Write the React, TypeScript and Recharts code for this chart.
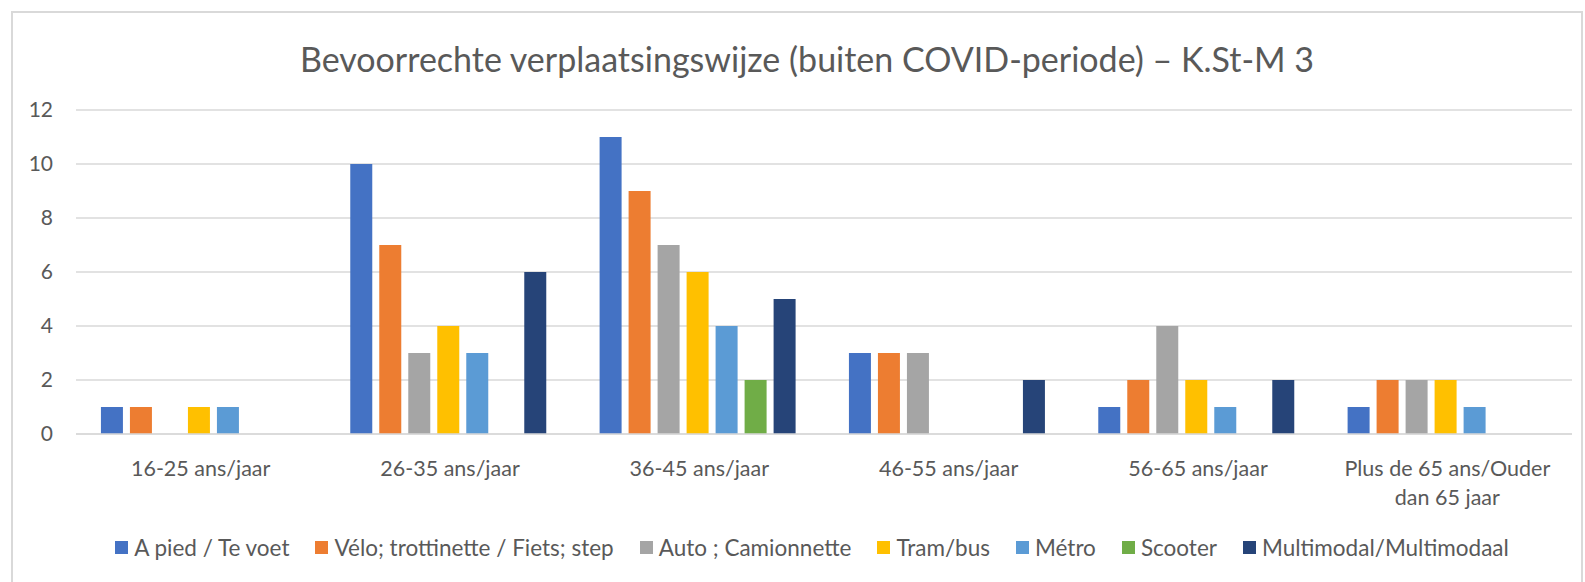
import { Bar, BarChart, CartesianGrid, Legend, Text, XAxis, YAxis } from "recharts"

const categories = [
  "16-25 ans/jaar",
  "26-35 ans/jaar",
  "36-45 ans/jaar",
  "46-55 ans/jaar",
  "56-65 ans/jaar",
  "Plus de 65 ans/Ouder dan 65 jaar",
]

const seriesNames = [
  "A pied / Te voet",
  "Vélo; trottinette / Fiets; step",
  "Auto ; Camionnette",
  "Tram/bus",
  "Métro",
  "Scooter",
  "Multimodal/Multimodaal",
]

const seriesColors = ["#4472C4", "#ED7D31", "#A5A5A5", "#FFC000", "#5B9BD5", "#70AD47", "#264478"]

// null = no bar in the source
const aPied = [1, 10, 11, 3, 1, 1]
const velo = [1, 7, 9, 3, 2, 2]
const auto = [null, 3, 7, 3, 4, 2]
const tramBus = [1, 4, 6, null, 2, 2]
const metro = [1, 3, 4, null, 1, 1]
const scooter = [null, null, 2, null, null, null]
const multimodal = [null, 6, 5, 2, 2, null]

const yTicks = [0, 2, 4, 6, 8, 10, 12]

const seriesValues = [aPied, velo, auto, tramBus, metro, scooter, multimodal]

const data = categories.map((name, i) => {
  const row: Record<string, string | number | null> = { name }
  seriesNames.forEach((s, j) => {
    row[s] = seriesValues[j][i]
  })
  return row
})

const font = "Lato, 'Open Sans', sans-serif"
const textColor = "#595959"

function CategoryTick(props: any) {
  const { x, y, payload } = props
  return (
    <Text
      x={x}
      y={y + 19}
      width={175}
      textAnchor="middle"
      verticalAnchor="start"
      fill={textColor}
      fontSize={21.5}
      fontFamily={font}
      style={{ fontSize: 21.5, fontFamily: font }}
      lineHeight={29}
    >
      {payload.value}
    </Text>
  )
}

function LegendContent() {
  return (
    <div style={{ display: "flex", justifyContent: "center", gap: 26, fontSize: 22.5, color: textColor, fontFamily: font }}>
      {seriesNames.map((s, j) => (
        <div key={s} style={{ display: "flex", alignItems: "center" }}>
          <span style={{ width: 13, height: 13, background: seriesColors[j], marginRight: 6, display: "inline-block" }} />
          <span>{s}</span>
        </div>
      ))}
    </div>
  )
}

export default function App() {
  return (
    <div
      style={{
        position: "absolute",
        left: 11,
        top: 11,
        width: 1568,
        height: 569,
        borderTop: "2px solid #d9d9d9",
        borderLeft: "2px solid #d9d9d9",
        borderRight: "2px solid #d9d9d9",
        background: "#fff",
        fontFamily: font,
      }}
    >
      <div
        style={{
          position: "absolute",
          top: 25,
          left: 10,
          width: 1568,
          textAlign: "center",
          fontSize: 34,
          lineHeight: "42px",
          color: textColor,
        }}
      >
        Bevoorrechte verplaatsingswijze (buiten COVID-periode) – K.St-M 3
      </div>
      <BarChart
        width={1568}
        height={569}
        data={data}
        margin={{ top: 97, right: 9, left: 0, bottom: 58 }}
        barCategoryGap="10%"
        barGap={7}
      >
        <CartesianGrid vertical={false} stroke="#d9d9d9" strokeWidth={1.5} />
        <XAxis
          dataKey="name"
          tick={<CategoryTick />}
          tickLine={false}
          axisLine={{ stroke: "#d9d9d9", strokeWidth: 1.5 }}
          interval={0}
          height={90}
        />
        <YAxis
          domain={[0, 12]}
          ticks={yTicks}
          width={63}
          tickLine={false}
          axisLine={false}
          tick={{ fill: textColor, fontSize: 21, fontFamily: font }}
          tickMargin={17}
        />
        <Legend
          layout="horizontal"
          verticalAlign="middle"
          align="center"
          content={<LegendContent />}
          wrapperStyle={{ top: 521, left: 15, width: 1568 }}
        />
        {seriesNames.map((s, j) => (
          <Bar key={s} dataKey={s} fill={seriesColors[j]} isAnimationActive={false} />
        ))}
      </BarChart>
    </div>
  )
}
